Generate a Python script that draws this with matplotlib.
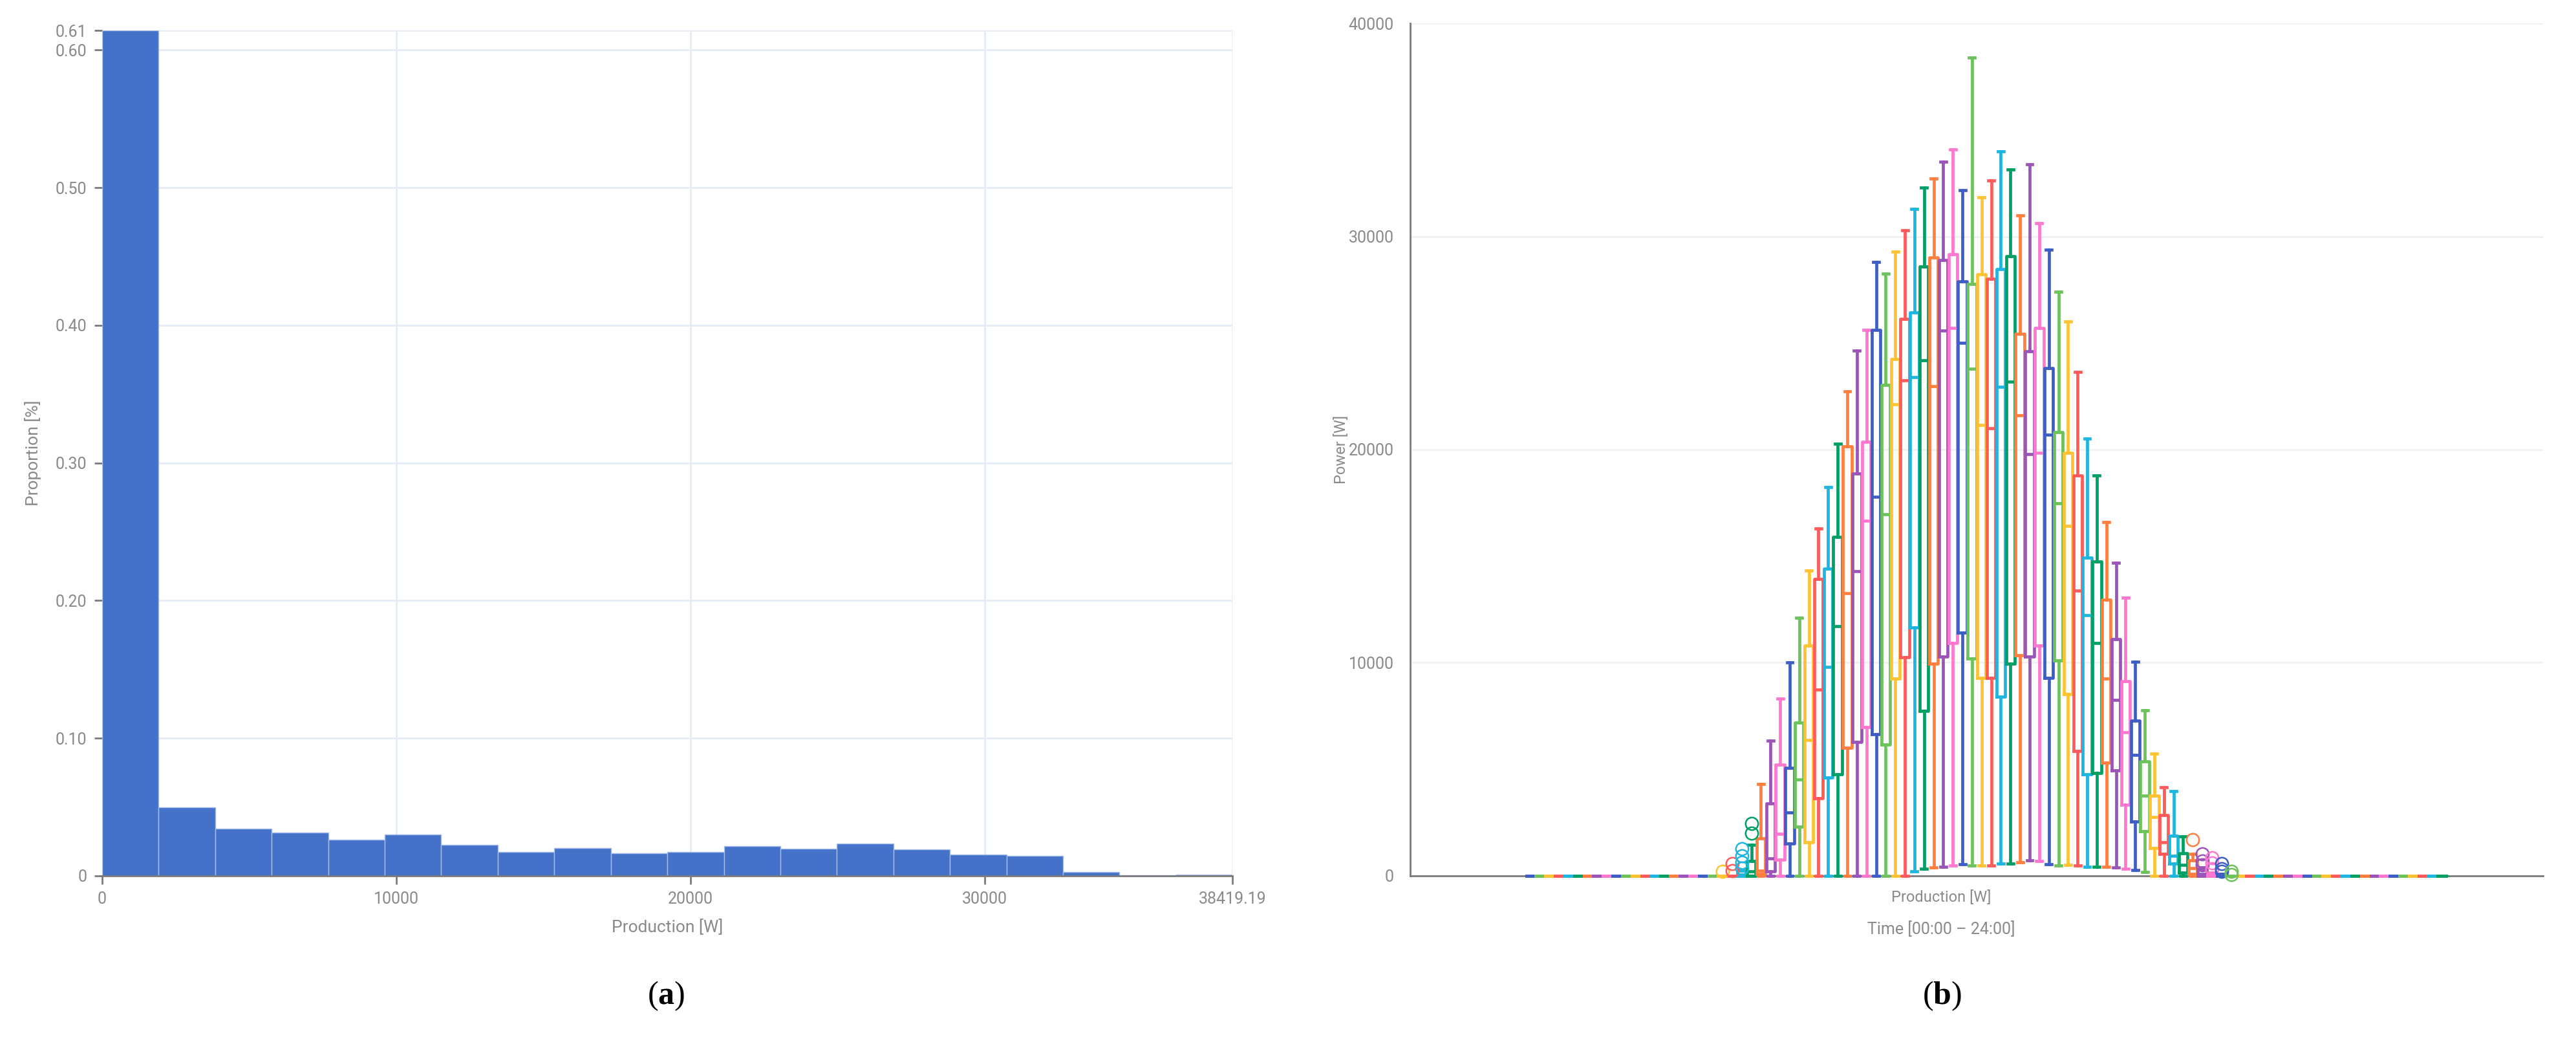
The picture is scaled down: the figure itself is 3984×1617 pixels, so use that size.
import matplotlib
matplotlib.use("Agg")
import matplotlib.pyplot as plt
import numpy as np

plt.rcParams['font.family'] = ['Roboto', 'DejaVu Sans']
plt.rcParams['mathtext.fontset'] = 'custom'
plt.rcParams['mathtext.rm'] = 'Liberation Serif'
plt.rcParams['mathtext.bf'] = 'Liberation Serif:bold'

# ---------------- (a) histogram data ----------------
production_max = 38419.19
proportion = [0.6142, 0.0500, 0.0342, 0.0316, 0.0264, 0.0301, 0.0223, 0.0173,
              0.0203, 0.0163, 0.0172, 0.0215, 0.0199, 0.0233, 0.0193, 0.0155,
              0.0143, 0.0030, 0.0003, 0.0010]
hist_xticks = [0, 10000, 20000, 30000, 38419.19]
hist_xticklabels = ['0', '10000', '20000', '30000', '38419.19']
hist_yticks = [0, 0.10, 0.20, 0.30, 0.40, 0.50, 0.60, 0.6142]
hist_yticklabels = ['0', '0.10', '0.20', '0.30', '0.40', '0.50', '0.60', '0.61']

# ---------------- (b) box plot data (96 quarter-hour slots) ----------------
time_slots = [f"{h:02d}:{m:02d}" for h in range(24) for m in (0, 15, 30, 45)]
first_active = 20   # slots before this and after the last entry are all zero
whislo = [0, 0, 0, 0, 0, 0, 0, 0, 0, 0, 0, 0, 0, 0, 0, 0, 0, 0, 0, 0,
          200, 330, 380, 430, 480, 530, 480, 480, 480, 560, 560, 630, 730, 690,
          530, 480, 500, 480, 430, 430, 430, 380, 330, 280, 180, 0, 0, 0, 0,
          0, 0, 0, 0, 0]
q1 = [0, 0, 0, 0, 100, 200, 760, 1500, 2300, 1590, 3650, 4610, 4760, 6020,
      6270, 6980, 6630, 6170, 9240, 10250, 11660, 7730, 9950, 10300, 10910,
      11410, 10200, 9300, 9300, 8390, 9950, 10350, 10300, 10800, 9300, 10100,
      8540, 5870, 4760, 4810, 5320, 4960, 3350, 2550, 2100, 1290, 1040, 580,
      150, 100, 0, 0, 0, 0]
median = [0, 0, 50, 200, 250, 820, 1970, 2960, 4510, 6370, 8740, 9800, 11710,
          13270, 14290, 16660, 17790, 16970, 22130, 23250, 23390, 24190, 22980,
          25570, 25710, 25000, 23800, 21160, 21010, 22940, 23200, 21620, 19800,
          19850, 20710, 17470, 16410, 13370, 12220, 10910, 9240, 8240, 6730,
          5670, 3760, 2750, 1590, 940, 500, 350, 100, 0, 0, 0]
q3 = [0, 0, 250, 700, 1750, 3400, 5230, 5070, 7180, 10800, 13930, 14420, 15900,
      20150, 18890, 20370, 25610, 23030, 24250, 26140, 26430, 28590, 29000,
      28890, 29180, 27900, 27780, 28240, 28010, 28480, 29060, 25430, 24600,
      25720, 23820, 20810, 19850, 18790, 14940, 14740, 12970, 11110, 9140,
      7280, 5370, 3760, 2850, 1890, 1050, 730, 300, 100, 50, 0]
whishi = [0, 0, 300, 1450, 4300, 6330, 8310, 10000, 12110, 14330, 16310, 18240,
          20270, 22730, 24650, 25610, 28800, 28270, 29290, 30300, 31290, 32290,
          32720, 33510, 34080, 32170, 38400, 31850, 32630, 34000, 33140, 31000,
          33380, 30630, 29390, 27400, 26000, 23640, 20510, 18790, 16610, 14690,
          13050, 10050, 7780, 5740, 4160, 3960, 1840, 1040, 400, 150, 100, 0]
outliers = {20: [200], 21: [560, 250], 22: [1270, 950, 620, 350],
            23: [1990, 2460], 69: [1690], 70: [1040, 690, 500],
            71: [840, 590, 330], 72: [560, 330, 200], 73: [200, 60]}
palette = ['#3E5EC6', '#6CC35B', '#FFC233', '#FF5B5B', '#1EB5E0',
           '#00A064', '#FF7F3F', '#9B55B8', '#FF77CF']

GREY = '#8a8a8a'

fig = plt.figure(figsize=(39.84, 16.17), dpi=100)

# ---------------- panel (a) ----------------
ax1 = fig.add_axes([0.03966, 0.1627, 0.4388, 0.8082])
n_bins = len(proportion)
edges = np.linspace(0, production_max, n_bins + 1)
ax1.bar(edges[:-1], proportion, width=np.diff(edges), align='edge',
        color='#4472C9', edgecolor='#a7bde9', linewidth=1.0, zorder=2)
ax1.set_xlim(0, production_max)
ax1.set_ylim(0, max(proportion))
ax1.set_xticks(hist_xticks)
ax1.set_xticklabels(hist_xticklabels)
ax1.set_yticks(hist_yticks)
ax1.set_yticklabels(hist_yticklabels)
ax1.grid(True, color='#e6ecf7', linewidth=2.0, zorder=0)
ax1.set_axisbelow(True)
for s in ('top', 'right', 'left'):
    ax1.spines[s].set_visible(False)
ax1.spines['bottom'].set_color('#7a7a7a')
ax1.spines['bottom'].set_linewidth(2.0)
ax1.tick_params(axis='both', colors='#7a7a7a', labelcolor=GREY,
                labelsize=18, length=9, width=2, pad=8)
ax1.set_xlabel('Production [W]', fontsize=19, color=GREY, labelpad=14)
ax1.set_ylabel('Proportion [%]', fontsize=19, color=GREY)
ax1.yaxis.set_label_coords(-0.054, 0.5)

# ---------------- panel (b) ----------------
ax2 = fig.add_axes([0.5474, 0.1627, 0.4398, 0.8150])
n_slots = len(time_slots)
stats = []
for i in range(n_slots):
    k = i - first_active
    if 0 <= k < len(q1):
        st = dict(whislo=whislo[k], q1=q1[k], med=median[k], q3=q3[k],
                  whishi=whishi[k], fliers=outliers.get(i, []))
    else:
        st = dict(whislo=0, q1=0, med=0, q3=0, whishi=0, fliers=[])
    st['label'] = time_slots[i]
    stats.append(st)

positions = np.arange(n_slots)
res = ax2.bxp(stats, positions=positions, widths=0.9, capwidths=0.6,
              showfliers=True, manage_ticks=False)
lw = 3.4
for i in range(n_slots):
    c = palette[i % len(palette)]
    res['boxes'][i].set(color=c, linewidth=lw, zorder=3, clip_on=False)
    res['medians'][i].set(color=c, linewidth=lw, zorder=3, clip_on=False)
    for w in res['whiskers'][2 * i:2 * i + 2]:
        w.set(color=c, linewidth=lw, zorder=3, clip_on=False)
    for cp in res['caps'][2 * i:2 * i + 2]:
        cp.set(color=c, linewidth=lw, zorder=3, clip_on=False)
    res['fliers'][i].set(marker='o', markerfacecolor='none',
                         markeredgecolor=c, markersize=14,
                         markeredgewidth=1.8, zorder=4, clip_on=False)

ax2.set_xlim(-12.56, 105.5)
ax2.set_ylim(0, 40000)
ax2.set_yticks([0, 10000, 20000, 30000, 40000])
ax2.set_yticklabels(['0', '10000', '20000', '30000', '40000'])
ax2.set_xticks([])
ax2.yaxis.grid(True, color='#eef0f2', linewidth=2.0, zorder=0)
ax2.set_axisbelow(True)
for s in ('top', 'right'):
    ax2.spines[s].set_visible(False)
for s in ('left', 'bottom'):
    ax2.spines[s].set_color('#7a7a7a')
    ax2.spines[s].set_linewidth(2.0)
    ax2.spines[s].set_zorder(1)
ax2.tick_params(axis='y', length=0, labelcolor=GREY, labelsize=18, pad=18)
ax2.set_ylabel('Power [W]', fontsize=17, color=GREY)
ax2.yaxis.set_label_coords(-0.054, 0.5)

fig.text(0.7535, 1 - 1387 / 1617, 'Production [W]', fontsize=17, color=GREY,
         ha='center', va='center')
fig.text(0.7535, 1 - 1436 / 1617, 'Time [00:00 \u2013 24:00]', fontsize=18,
         color=GREY, ha='center', va='center')

# ---------------- panel captions ----------------
fig.text(1030 / 3984, 1 - 1540 / 1617, r'($\mathbf{a}$)', fontsize=36,
         family='Liberation Serif', ha='center', va='center', color='black')
fig.text(3003 / 3984, 1 - 1540 / 1617, r'($\mathbf{b}$)', fontsize=36,
         family='Liberation Serif', ha='center', va='center', color='black')

fig.savefig('out.png', dpi=100)
